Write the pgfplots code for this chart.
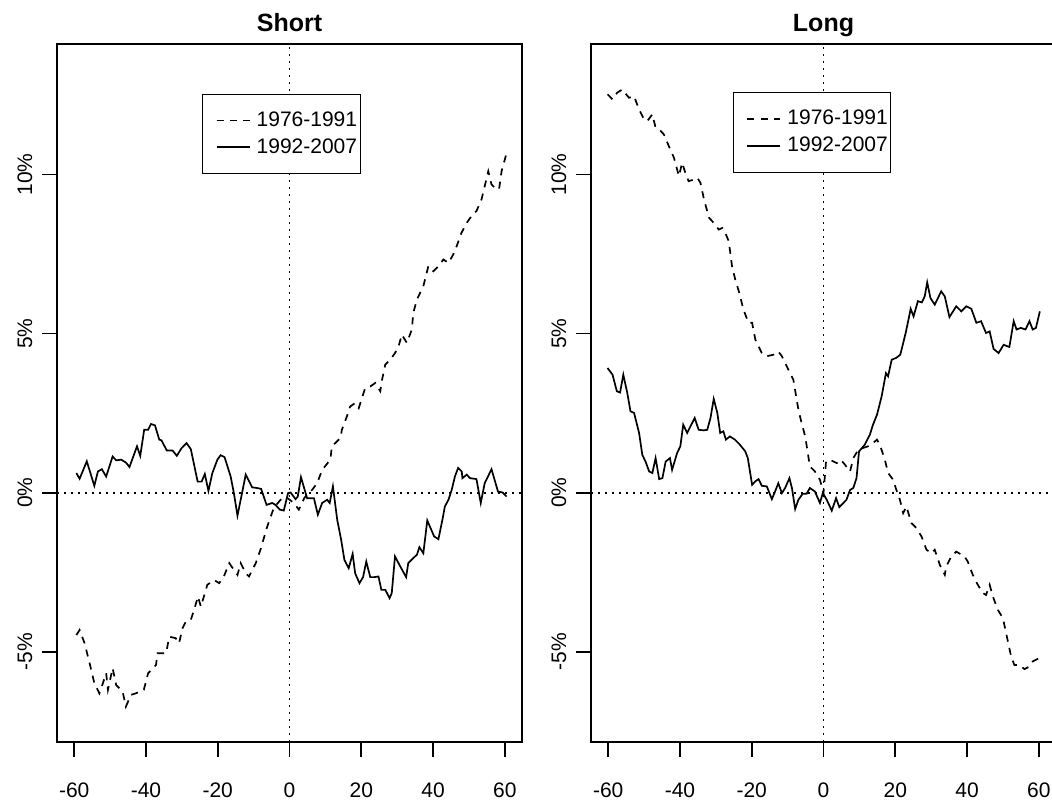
\documentclass[border=0pt]{standalone}
\usepackage{fontspec}
\setmainfont{Liberation Sans}
\usepackage{pgfplots}
\pgfplotsset{compat=1.18}

\pgfplotstableread{
x y
-59.4 -4.47
-58.5 -4.31
-57.1 -4.73
-55.7 -5.36
-54.4 -5.98
-53.0 -6.30
-52.0 -5.98
-51.1 -5.67
-50.6 -6.19
-49.3 -5.51
-48.3 -6.04
-46.5 -6.25
-45.6 -6.72
-44.2 -6.35
-42.8 -6.30
-40.6 -6.19
-39.4 -5.67
-37.2 -5.41
-36.8 -5.04
-34.4 -5.04
-33.5 -4.52
-31.7 -4.57
-30.8 -4.73
-29.8 -4.25
-28.9 -4.05
-27.5 -3.99
-26.6 -3.68
-25.5 -3.26
-24.7 -3.58
-22.9 -2.89
-21.0 -2.74
-19.6 -2.84
-18.3 -2.63
-16.8 -2.21
-15.5 -2.42
-14.5 -2.58
-13.6 -2.21
-12.2 -2.53
-11.3 -2.63
-9.4 -2.21
-8.1 -1.79
-6.2 -1.06
-4.4 -0.48
-2.5 -0.22
-1.1 -0.12
1.2 -0.32
2.6 -0.53
4.2 -0.15
6.3 0.09
7.7 0.30
9.1 0.72
11.4 1.04
11.8 1.46
13.2 1.61
14.2 1.72
14.6 1.98
16.0 2.40
16.9 2.71
18.3 2.82
19.3 2.66
20.2 2.98
21.1 3.29
22.5 3.34
23.9 3.45
25.3 3.19
25.7 3.50
26.7 4.03
28.1 4.18
29.4 4.39
30.4 4.60
31.3 4.97
32.7 4.71
34.1 5.13
34.5 5.65
35.5 6.07
37.3 6.49
38.7 7.12
40.1 6.96
41.5 7.12
42.9 7.33
44.3 7.22
45.6 7.48
46.6 7.75
47.9 8.16
49.4 8.48
50.7 8.69
52.1 8.85
53.5 9.21
54.4 9.63
55.4 10.10
56.3 9.69
57.2 9.58
58.4 9.53
59.1 10.10
60.4 10.63
}\shortold

\pgfplotstableread{
x y
-59.4 0.62
-58.5 0.44
-56.5 0.99
-54.4 0.22
-53.4 0.67
-52.3 0.74
-51.1 0.51
-49.3 1.14
-48.3 1.02
-46.9 1.04
-45.6 0.95
-44.6 0.81
-42.5 1.46
-41.6 1.16
-40.5 1.98
-39.4 1.98
-38.6 2.16
-37.5 2.12
-36.3 1.67
-35.7 1.65
-34.2 1.33
-32.6 1.33
-31.4 1.16
-30.1 1.40
-28.7 1.56
-27.5 1.37
-25.6 0.35
-24.5 0.35
-23.6 0.59
-22.6 0.06
-21.5 0.62
-20.1 1.04
-19.2 1.18
-18.1 1.12
-16.4 0.51
-15.5 -0.01
-14.5 -0.72
-12.2 0.57
-10.4 0.17
-9.0 0.15
-7.9 0.12
-6.4 -0.38
-4.8 -0.32
-3.9 -0.38
-2.7 -0.53
-1.6 -0.56
-0.4 -0.01
0.3 0.01
1.7 -0.20
2.3 -0.12
3.2 0.49
4.9 -0.17
6.8 -0.17
7.9 -0.69
9.1 -0.32
10.5 -0.22
11.2 -0.32
12.1 0.20
13.3 -0.85
14.4 -1.48
15.3 -2.11
16.5 -2.37
17.6 -1.92
18.3 -2.53
19.5 -2.84
20.5 -2.65
21.4 -2.16
22.5 -2.65
23.6 -2.65
24.8 -2.63
25.6 -3.05
26.7 -3.05
27.9 -3.31
28.5 -3.15
29.4 -2.00
30.8 -2.30
32.5 -2.65
33.1 -2.21
34.5 -2.05
35.5 -1.95
36.2 -1.71
37.3 -1.90
38.4 -0.87
40.3 -1.37
41.5 -1.46
42.7 -0.80
43.3 -0.43
44.3 -0.22
45.2 0.09
46.1 0.51
47.0 0.78
48.0 0.67
48.2 0.46
49.4 0.57
50.3 0.46
52.1 0.43
53.3 -0.32
54.4 0.30
56.3 0.74
58.1 0.04
59.4 0.01
60.5 -0.12
}\shortnew

\pgfplotstableread{
x y
-60.2 12.52
-58.8 12.36
-57.5 12.57
-56.1 12.67
-54.2 12.41
-52.8 12.46
-51.4 12.04
-50.0 11.73
-49.1 11.68
-47.7 11.89
-46.8 11.47
-45.8 11.42
-44.5 11.26
-43.1 10.89
-41.7 10.53
-40.3 9.95
-39.4 10.37
-38.5 10.05
-37.6 9.79
-36.2 9.84
-35.2 9.90
-34.3 9.74
-33.3 9.21
-31.9 8.64
-30.6 8.48
-29.2 8.27
-28.2 8.32
-27.4 8.17
-26.4 7.90
-25.5 7.12
-24.6 6.70
-23.6 6.33
-22.3 5.75
-20.9 5.34
-19.9 5.34
-19.0 4.81
-17.2 4.39
-15.8 4.29
-13.9 4.34
-12.6 4.44
-11.6 4.29
-9.8 3.87
-8.4 3.55
-7.0 2.61
-6.1 2.19
-5.1 1.77
-3.8 0.83
-2.4 0.67
-1.0 0.41
0.0 -0.01
0.7 0.98
1.8 1.04
3.7 0.93
4.8 1.04
6.0 0.88
7.4 0.67
8.3 1.09
9.7 1.35
11.1 1.41
12.4 1.46
14.3 1.61
14.9 1.67
15.7 1.51
17.1 1.04
18.0 0.62
19.4 0.41
20.3 0.09
21.3 -0.22
22.2 -0.64
23.1 -0.43
24.5 -0.95
25.9 -1.11
27.3 -1.37
28.7 -1.79
30.1 -1.90
31.0 -1.79
32.4 -2.26
33.8 -2.58
34.2 -2.32
35.6 -2.00
37.0 -1.85
39.3 -2.00
40.2 -2.16
41.6 -2.58
43.0 -2.89
44.4 -3.15
45.3 -3.21
46.3 -2.89
47.2 -3.26
48.6 -3.68
50.0 -3.94
51.1 -4.52
52.3 -5.15
53.2 -5.41
54.6 -5.41
56.0 -5.54
57.4 -5.46
58.3 -5.30
60.0 -5.20
}\longold

\pgfplotstableread{
x y
-60.2 3.92
-58.8 3.71
-57.6 3.19
-56.7 3.15
-55.8 3.71
-54.7 3.14
-53.8 2.56
-52.8 2.51
-51.4 1.88
-50.5 1.19
-49.6 0.98
-48.6 0.67
-47.7 0.62
-46.8 1.09
-45.8 0.43
-44.9 0.46
-44.0 0.98
-42.8 1.09
-42.2 0.72
-40.8 1.25
-39.9 1.46
-39.1 2.14
-38.0 1.88
-35.9 2.35
-34.8 1.98
-33.4 1.96
-32.4 1.98
-31.5 2.35
-30.6 2.95
-29.6 2.51
-28.8 1.88
-27.9 1.93
-27.2 1.67
-26.1 1.77
-24.7 1.67
-23.3 1.51
-21.8 1.30
-21.1 1.09
-19.9 0.25
-19.0 0.36
-18.1 0.43
-17.2 0.22
-15.8 0.20
-14.4 -0.20
-13.5 0.04
-12.6 0.30
-11.6 -0.01
-10.7 0.15
-9.5 0.46
-8.8 0.15
-7.9 -0.51
-7.0 -0.22
-5.8 -0.03
-4.7 -0.03
-3.8 0.15
-2.4 0.04
-1.0 -0.32
-0.2 -0.01
0.9 -0.22
2.3 -0.56
3.5 -0.17
4.4 -0.45
6.4 -0.22
7.4 0.09
8.3 0.15
9.2 0.46
9.9 1.30
11.5 1.51
12.2 1.67
12.9 1.82
13.8 2.14
14.9 2.45
16.2 3.03
17.4 3.76
18.0 3.66
19.0 4.18
20.3 4.24
21.4 4.34
22.9 5.02
24.3 5.78
25.1 5.54
26.3 6.02
27.4 5.98
28.2 6.17
28.9 6.61
29.8 6.12
31.0 5.91
32.8 6.33
33.8 6.17
35.1 5.52
37.0 5.86
38.4 5.70
39.8 5.86
41.2 5.78
42.6 5.34
43.9 5.39
45.3 5.02
46.3 5.07
47.4 4.52
48.8 4.39
50.2 4.65
51.8 4.58
53.0 5.39
53.8 5.13
55.0 5.18
56.3 5.13
57.4 5.39
58.3 5.13
59.2 5.18
60.3 5.70
}\longnew

\tikzset{
  refline/.style={black, line width=0.8pt, dash pattern=on 0.8pt off 2.7pt},
}

\begin{document}
\fontsize{10.5}{12}\selectfont
\begin{tikzpicture}
\pgfplotsset{
  panel/.style={
    scale only axis, width=232.5pt, height=349pt,
    xmin=-64.8, xmax=64.8, ymin=-7.83, ymax=14.1,
    xtick={-60,-40,-20,0,20,40,60},
    xticklabels={-60,-40,-20,0,20,40,60},
    ytick={-5,0,5,10},
    yticklabels={-5\%,0\%,5\%,10\%},
    tick pos=left,
    tick align=outside, major tick length=7.5pt,
    axis line style={line width=0.9pt},
    every tick/.style={black, line width=0.8pt},
    xticklabel style={anchor=base, yshift=-20pt},
    yticklabel style={rotate=90, anchor=base, yshift=5pt},
    title style={at={(0.5,1)}, anchor=base, yshift=0pt, font=\fontsize{12.5}{14}\selectfont\bfseries},
    legend cell align=left,
    legend style={draw=black, line width=0.6pt, anchor=north west,
      inner xsep=1pt, inner ysep=8.2pt, row sep=3.5pt,
      nodes={inner sep=0.5pt},
      font=\fontsize{10.5}{12}\selectfont},
    legend image code/.code={\path[draw=none,fill=none] (0pt,-1pt) rectangle (25.5pt,1pt);
      \draw[##1] (6pt,0pt) -- (22.5pt,0pt);},
  },
  oldline/.style={black, line width=0.85pt, dash pattern=on 3.5pt off 3.2pt},
  newline/.style={black, line width=0.85pt, solid},
}
\begin{axis}[panel, at={(28.5pt,29.5pt)}, anchor=south west, title={Short},
  legend style={at={(0.312,0.929)}}]
\addplot[oldline] table[x=x,y=y] {\shortold};
\addlegendentry{1976-1991}
\addplot[newline] table[x=x,y=y] {\shortnew};
\addlegendentry{1992-2007}
\draw[refline] (axis cs:0,-7.83) -- (axis cs:0,14.1);
\draw[refline] (axis cs:-64.8,0) -- (axis cs:64.8,0);
\end{axis}
\begin{axis}[panel, at={(295.5pt,29.5pt)}, anchor=south west, title={Long},
  legend style={at={(0.305,0.931)}}]
\addplot[oldline] table[x=x,y=y] {\longold};
\addlegendentry{1976-1991}
\addplot[newline] table[x=x,y=y] {\longnew};
\addlegendentry{1992-2007}
\draw[refline] (axis cs:0,-7.83) -- (axis cs:0,14.1);
\draw[refline] (axis cs:-64.8,0) -- (axis cs:64.8,0);
\end{axis}
\pgfresetboundingbox
\path[use as bounding box] (0pt,0pt) rectangle (526pt,400.5pt);
\end{tikzpicture}
\end{document}
